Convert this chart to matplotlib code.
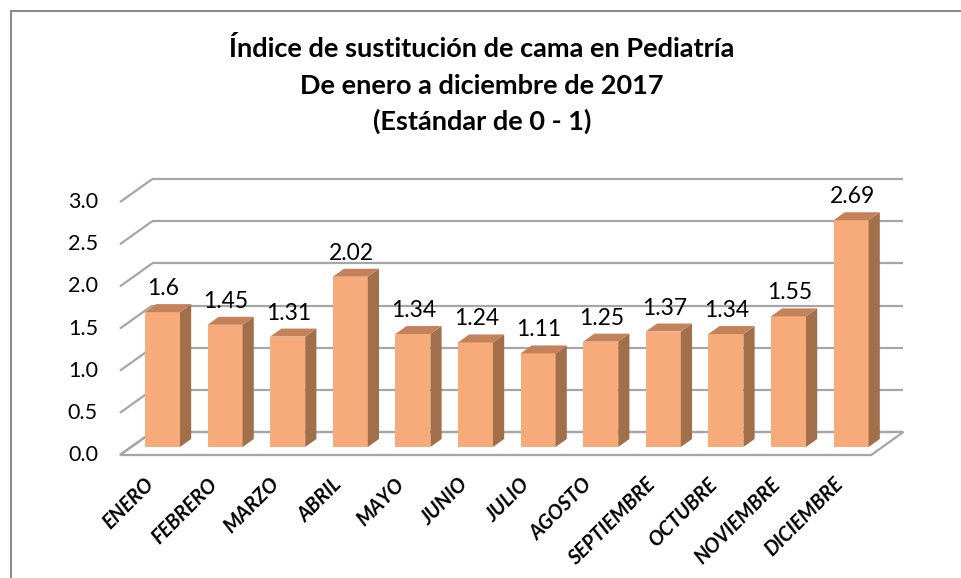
import numpy as np
import matplotlib.pyplot as plt
from matplotlib.patches import Polygon
from matplotlib.lines import Line2D

plt.rcParams['font.family'] = ['Lato', 'DejaVu Sans']

# datos del grafico
meses = ['ENERO', 'FEBRERO', 'MARZO', 'ABRIL', 'MAYO', 'JUNIO', 'JULIO',
         'AGOSTO', 'SEPTIEMBRE', 'OCTUBRE', 'NOVIEMBRE', 'DICIEMBRE']
indice = [1.6, 1.45, 1.31, 2.02, 1.34, 1.24, 1.11, 1.25, 1.37, 1.34, 1.55, 2.69]
y_ticks = [0.0, 0.5, 1.0, 1.5, 2.0, 2.5, 3.0]
titulo = ['Índice de sustitución de cama en Pediatría',
          'De enero a diciembre de 2017',
          '(Estándar de 0 - 1)']

# colores
c_front = '#F8AB7A'
c_top = '#C3825A'
c_side = '#A26F4B'
c_grid = '#A6A6A6'

W, H = 962, 578
fig = plt.figure(figsize=(W/100, H/100), dpi=100)
ax_pos = [0.1038, 0.1683, 0.8525, 0.5396]
ax = fig.add_axes(ax_pos)
ax.set_xlim(-1.0, 12.1)
ax.set_ylim(-0.4, 3.3)
ax.axis('off')

# pixels per data unit, used for the fake 3D depth
px_x = W*ax_pos[2]/(12.1 - (-1.0))
px_y = H*ax_pos[3]/(3.3 - (-0.4))
RATIO = 1.4
FRONT, BAR_BACK, WALL = -8, 8, 15

def depth(x, y, d):
    return x + RATIO*d/px_x, y + d/px_y

x = np.arange(len(meses))
bw = 0.56
x0, x1 = -0.5, len(meses) - 0.5

# back wall gridlines + left side diagonals
for v in y_ticks:
    a = depth(x0, v, WALL)
    b = depth(x1, v, WALL)
    f = depth(x0, v, FRONT)
    ax.plot([a[0], b[0]], [a[1], b[1]], color=c_grid, lw=1.6, zorder=1,
            solid_capstyle='butt')
    ax.plot([f[0], a[0]], [f[1], a[1]], color=c_grid, lw=1.6, zorder=1,
            solid_capstyle='butt')
    ax.annotate(f'{v:.1f}', f, xytext=(-22, 0), textcoords='offset pixels',
                ha='right', va='center', fontsize=15.5)

# floor
floor = [depth(x0, 0, FRONT), depth(x1, 0, FRONT),
         depth(x1, 0, WALL), depth(x0, 0, WALL)]
ax.add_patch(Polygon(floor, closed=True, fill=False, edgecolor=c_grid,
                     lw=1.6, zorder=1, joinstyle='miter'))

# bars: front face, side and top
ax.bar(x, indice, width=bw, color=c_front, zorder=3)
for i, v in zip(x, indice):
    xl, xr = i - bw/2, i + bw/2
    side = [(xr, 0), depth(xr, 0, BAR_BACK), depth(xr, v, BAR_BACK), (xr, v)]
    top = [(xl, v), (xr, v), depth(xr, v, BAR_BACK), depth(xl, v, BAR_BACK)]
    ax.add_patch(Polygon(side, closed=True, facecolor=c_side, edgecolor='none', zorder=3))
    ax.add_patch(Polygon(top, closed=True, facecolor=c_top, edgecolor='none', zorder=3))
    ax.annotate(str(v), (i, v), xytext=(1, 17), textcoords='offset pixels',
                ha='center', va='baseline', fontsize=16.5)

# category labels
for i, mes in zip(x, meses):
    ax.annotate(mes, depth(i, 0, FRONT), xytext=(7, -19), textcoords='offset pixels',
                ha='right', va='top', rotation=45, fontsize=14.5,
                fontweight='bold', fontstyle='italic')

# title
for txt, yb in zip(titulo, [57, 94, 130]):
    fig.text(482/W, 1 - yb/H, txt, ha='center', va='baseline',
             fontsize=19.5, fontweight='bold')

# chart frame (left and top edges visible)
fig.add_artist(Line2D([11/W, 11/W], [0, 1 - 11/H], transform=fig.transFigure,
                      color='#8C8C8C', lw=1.5))
fig.add_artist(Line2D([11/W, 1], [1 - 11/H, 1 - 11/H], transform=fig.transFigure,
                      color='#8C8C8C', lw=1.5))

fig.savefig('out.png', dpi=100)
